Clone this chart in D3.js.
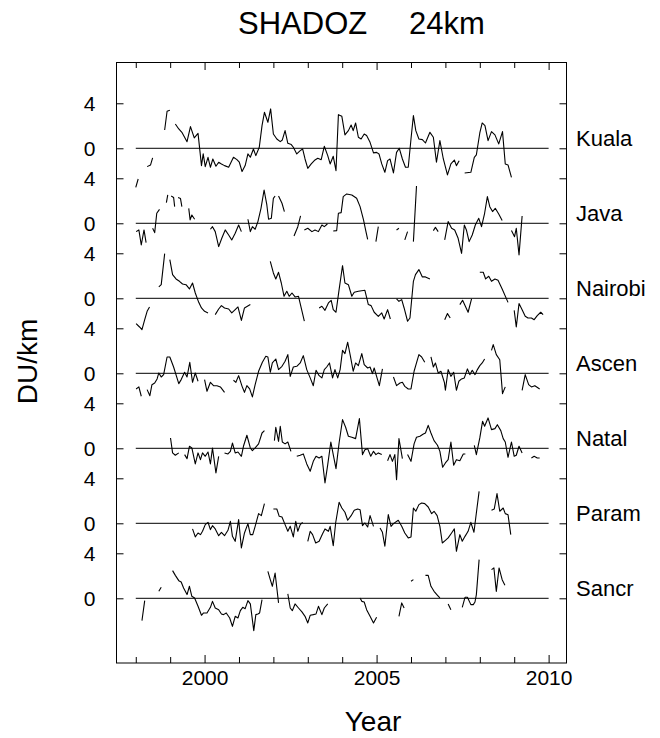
<!DOCTYPE html>
<html>
<head>
<meta charset="utf-8">
<script src="https://cdn.jsdelivr.net/npm/d3@7"></script>
<style>
  body { margin: 0; background: #fff; }
  text { font-family: "Liberation Sans", Arial, sans-serif; fill: #000; }
</style>
</head>
<body>
<script>
// stations, top to bottom
let stations = ['Kuala', 'Java', 'Nairobi', 'Ascen', 'Natal', 'Param', 'Sancr'];

// tick values
let majorYears = [2000, 2005, 2010];
let minorYears = [1998, 1999, 2001, 2002, 2003, 2004, 2006, 2007, 2008, 2009];
let panelTicks = [4, 0];
let panelTickLabels = ['4', '0'];

// ozone anomaly at 24km, [year, DU/km], null = gap
let kuala = [
  [1998.00,-3.47],[1998.07,-2.73],null,
  [1998.33,-1.63],[1998.43,-1.48],[1998.49,-0.86],null,
  [1998.84,1.63],[1998.91,3.29],[1998.99,3.38],null,
  [1999.15,2.16],[1999.25,1.72],[1999.34,1.42],[1999.49,0.59],[1999.59,1.93],[1999.70,0.92],[1999.81,1.33],[1999.91,-1.54],[1999.96,-0.50],
  [2000.02,-1.63],[2000.10,-0.80],[2000.17,-1.69],[2000.24,-0.95],[2000.33,-1.60],[2000.41,-1.24],[2000.49,-1.39],[2000.58,-1.54],[2000.70,-1.69],[2000.84,-0.80],[2000.94,-1.01],
  [2001.01,-1.24],[2001.09,-2.07],[2001.18,-1.54],[2001.26,-0.50],[2001.33,-0.80],[2001.42,-0.06],[2001.49,-0.65],[2001.59,0.09],[2001.67,2.01],[2001.74,3.20],[2001.84,2.31],[2001.92,3.50],
  [2002.00,1.27],[2002.10,0.83],[2002.20,0.59],[2002.26,0.74],[2002.34,1.57],[2002.42,0.44],[2002.52,0.33],[2002.58,0.09],[2002.68,-0.50],[2002.78,-0.21],[2002.85,-0.06],[2002.92,-0.95],
  [2003.00,-1.78],[2003.10,-1.39],[2003.21,-1.04],[2003.29,-0.89],[2003.39,-1.01],[2003.48,0.18],[2003.58,-0.65],[2003.65,-1.39],[2003.74,-0.71],[2003.82,-1.99],[2003.89,2.99],[2003.99,2.84],
  [2004.08,1.19],[2004.18,1.57],[2004.26,2.07],[2004.32,1.57],[2004.39,2.25],[2004.47,0.98],[2004.55,0.83],[2004.64,1.27],[2004.71,1.13],[2004.81,0.53],[2004.91,-0.41],
  [2005.00,-0.36],[2005.07,-0.50],[2005.15,-1.39],[2005.24,-2.13],[2005.32,-1.10],[2005.39,-0.95],[2005.49,-2.19],[2005.58,-0.36],[2005.66,0.00],[2005.75,-0.95],[2005.84,-1.69],[2005.92,-1.69],
  [2006.00,0.83],[2006.07,2.90],[2006.14,1.57],[2006.23,0.83],[2006.33,0.77],[2006.42,0.47],[2006.55,1.42],[2006.65,0.98],[2006.74,-1.24],[2006.84,0.68],[2006.94,-0.95],
  [2007.06,-2.37],[2007.16,-1.39],[2007.26,-1.04],[2007.32,-1.54],[2007.40,-1.10],null,
  [2007.56,-2.19],[2007.74,-2.13],[2007.84,-0.80],[2007.90,-0.59],[2008.00,1.36],[2008.07,2.25],[2008.15,2.01],[2008.24,0.68],[2008.34,1.48],[2008.44,1.19],[2008.55,0.39],[2008.66,1.48],[2008.74,-1.39],[2008.82,-1.48],[2008.92,-2.58]
];

let java = [
  [1998.01,-0.74],[1998.09,-0.59],[1998.16,-1.93],[1998.24,-0.59],[1998.30,-1.72],null,
  [1998.49,-0.44],[1998.55,-0.83],[1998.61,0.89],[1998.69,1.24],null,
  [1998.89,1.84],[1998.93,2.52],null,
  [1999.03,2.42],[1999.10,2.30],[1999.13,1.48],null,
  [1999.23,2.30],[1999.30,2.20],[1999.34,1.48],null,
  [1999.54,1.33],[1999.58,0.30],[1999.63,0.74],[1999.71,0.36],null,
  [2000.17,-0.53],[2000.23,-0.30],[2000.31,-0.74],[2000.41,-2.07],[2000.50,-1.33],[2000.60,-0.59],[2000.70,-1.04],[2000.79,-1.48],[2000.89,-0.89],[2000.99,-0.15],[2001.07,-0.74],null,
  [2001.26,0.36],[2001.33,-0.74],[2001.39,-0.30],[2001.47,-0.53],[2001.55,0.15],[2001.64,1.33],[2001.73,2.96],[2001.81,1.63],[2001.86,0.36],[2001.94,0.44],[2002.00,2.22],[2002.05,2.43],null,
  [2002.15,2.43],[2002.25,1.78],[2002.32,1.04],null,
  [2002.60,-1.13],[2002.71,-0.30],[2002.79,0.65],null,
  [2002.90,-0.59],[2003.00,-0.44],[2003.12,-0.74],[2003.21,-0.59],[2003.31,-0.74],[2003.41,-0.15],[2003.48,-0.30],[2003.57,-0.06],null,
  [2003.74,-0.68],[2003.84,-0.65],[2003.89,0.89],[2003.97,0.95],[2004.03,2.37],[2004.13,2.61],[2004.28,2.52],[2004.42,2.22],[2004.52,1.48],[2004.62,0.30],[2004.68,-0.59],[2004.74,-1.42],null,
  [2004.98,-1.63],[2005.05,-0.30],null,
  [2005.58,-0.59],[2005.65,-0.44],null,
  [2005.82,-1.48],[2005.90,-0.74],null,
  [2006.07,-1.63],[2006.16,3.32],null,
  [2006.65,-0.65],[2006.71,-0.36],[2006.79,-0.74],null,
  [2006.98,-1.48],[2007.08,0.15],[2007.18,-0.44],[2007.27,-0.59],[2007.37,-1.33],[2007.47,-2.67],[2007.55,-0.15],[2007.61,-0.59],[2007.69,-1.63],[2007.78,-1.04],[2007.87,-0.15],[2007.97,0.44],
  [2008.05,-0.30],[2008.14,0.89],[2008.22,2.37],[2008.29,1.48],[2008.37,1.04],[2008.45,1.33],[2008.55,0.83],[2008.65,0.24],null,
  [2008.92,-0.65],[2009.01,-1.19],[2009.06,-0.44],[2009.14,-2.81],[2009.23,0.65]
];

let nairobi = [
  [1998.01,-2.25],[1998.11,-2.55],[1998.18,-2.79],[1998.26,-1.90],[1998.33,-1.16],[1998.40,-0.77],null,
  [1998.67,1.01],[1998.74,1.21],[1998.84,3.97],null,
  [1998.99,3.44],[1999.07,2.10],[1999.17,1.72],[1999.27,1.51],[1999.36,1.27],[1999.46,1.21],[1999.56,0.83],[1999.65,1.36],[1999.73,0.47],[1999.83,-0.36],[1999.91,-0.86],[2000.00,-1.16],[2000.10,-1.30],null,
  [2000.31,-1.45],[2000.41,-0.95],[2000.49,-0.65],[2000.58,-0.86],[2000.70,-0.95],[2000.79,-1.30],[2000.89,-1.01],[2000.97,-0.77],[2001.07,-1.96],[2001.16,-0.86],[2001.33,-0.56],null,
  [2001.91,3.29],[2002.00,2.25],[2002.07,1.72],[2002.15,2.31],[2002.23,1.36],[2002.31,0.18],[2002.39,0.62],[2002.46,0.18],[2002.54,0.47],[2002.63,0.12],[2002.73,0.18],[2002.90,-2.04],null,
  [2003.33,-0.86],[2003.41,-0.71],[2003.50,-1.07],[2003.60,-0.41],[2003.68,-0.18],[2003.74,-1.01],[2003.82,-1.24],[2003.91,0.77],[2004.01,2.90],[2004.08,1.36],[2004.18,1.21],[2004.28,0.18],[2004.35,0.53],[2004.47,0.62],[2004.66,0.71],[2004.76,-0.56],[2004.84,-0.65],[2004.93,-1.24],
  [2005.05,-1.60],[2005.15,-1.30],[2005.22,-1.84],[2005.32,-1.01],[2005.40,-1.84],null,
  [2005.58,-0.06],[2005.65,-0.27],[2005.73,-0.12],[2005.80,-0.86],[2005.90,-2.04],[2005.97,-1.75],[2006.07,1.51],[2006.13,2.10],[2006.23,2.55],[2006.33,1.90],[2006.42,1.90],[2006.55,1.72],null,
  [2006.98,-1.90],[2007.06,-1.36],[2007.14,-1.75],null,
  [2007.42,-0.56],[2007.50,-0.18],[2007.66,-1.24],[2007.76,-0.06],null,
  [2008.00,2.31],[2008.10,2.31],[2008.17,1.72],[2008.26,1.96],[2008.34,1.51],[2008.44,1.72],[2008.53,1.60],[2008.65,0.83],[2008.82,-0.36],null,
  [2009.00,-1.07],[2009.06,-2.55],[2009.14,-0.47],[2009.23,-1.01],[2009.32,-1.60],[2009.40,-1.75],[2009.50,-1.75],[2009.58,-1.90],[2009.67,-1.54],[2009.77,-1.24],[2009.84,-1.45]
];

let ascen = [
  [1998.01,-1.39],[1998.09,-1.21],[1998.16,-2.04],null,
  [1998.33,-1.45],[1998.41,-1.99],[1998.47,-1.01],[1998.55,-0.86],[1998.62,-0.50],[1998.67,0.03],[1998.74,-0.33],[1998.81,-0.12],[1998.91,1.45],[1998.99,1.45],
  [1999.10,0.56],[1999.25,-0.92],[1999.32,-0.56],[1999.42,0.09],[1999.49,-0.33],[1999.57,0.98],[1999.65,-0.80],[1999.73,0.03],[1999.81,-0.71],null,
  [2000.00,-0.56],[2000.07,-1.60],[2000.17,-0.80],[2000.26,-1.10],[2000.36,-1.10],[2000.46,-1.21],[2000.58,-1.69],null,
  [2000.84,-0.62],[2000.91,-0.80],[2000.99,-0.21],[2001.09,-1.16],[2001.16,-1.69],[2001.23,-1.10],[2001.31,-1.39],[2001.39,-2.10],[2001.47,-1.01],[2001.57,0.18],[2001.68,0.98],[2001.78,1.51],[2001.84,1.45],[2001.91,0.09],[2001.97,0.92],
  [2002.07,1.27],[2002.15,0.33],[2002.25,0.62],[2002.34,1.07],[2002.42,1.66],[2002.49,-0.27],[2002.58,0.56],[2002.68,0.62],[2002.78,0.92],[2002.87,1.57],[2002.97,0.33],
  [2003.07,-0.41],[2003.16,-1.10],[2003.24,0.27],[2003.33,-0.21],[2003.41,-0.41],[2003.48,0.33],[2003.55,0.56],[2003.63,0.92],[2003.72,-0.41],[2003.79,0.33],[2003.87,-0.41],[2003.94,0.33],
  [2004.01,2.04],[2004.08,1.75],[2004.16,2.76],[2004.24,1.51],[2004.32,0.18],[2004.39,0.92],[2004.47,0.68],[2004.57,1.75],[2004.64,0.77],[2004.74,0.47],[2004.81,0.56],[2004.88,-0.03],[2004.93,0.47],
  [2005.00,-0.27],[2005.08,-1.10],[2005.17,0.39],null,
  [2005.49,-0.33],[2005.58,-1.10],[2005.68,-0.86],[2005.75,-0.80],[2005.82,-1.16],[2005.92,-1.39],[2006.00,-1.39],[2006.09,0.18],[2006.16,0.92],[2006.23,1.66],[2006.31,1.45],[2006.40,0.98],null,
  [2006.58,1.45],[2006.65,0.56],[2006.71,0.92],[2006.79,0.03],[2006.87,0.18],[2006.97,-0.80],[2007.00,-1.51],[2007.08,0.33],[2007.16,-0.27],[2007.24,0.09],[2007.32,-1.51],[2007.39,-0.71],[2007.47,-0.50],[2007.55,-0.41],[2007.64,0.39],[2007.71,-0.12],[2007.78,0.27],[2007.86,-0.12],[2007.93,0.33],
  [2008.00,0.68],[2008.07,0.92],[2008.14,1.27],null,
  [2008.34,2.04],[2008.39,2.55],[2008.48,1.66],[2008.58,1.21],[2008.66,-1.81],[2008.74,-1.21],null,
  [2009.23,-1.51],[2009.32,-0.12],[2009.42,-1.01],[2009.50,-1.21],[2009.60,-1.10],[2009.74,-1.39]
];

let natal = [
  [1999.01,0.92],[1999.07,-0.41],[1999.15,-0.62],[1999.25,-0.41],null,
  [1999.42,-0.56],[1999.49,-0.92],[1999.56,0.18],[1999.63,0.03],[1999.73,-1.39],[1999.81,-0.41],[1999.88,-1.01],[1999.94,-0.41],[2000.02,-0.71],[2000.10,-0.33],[2000.17,-1.39],[2000.23,0.03],[2000.33,-2.19],[2000.41,-0.71],null,
  [2000.58,-0.41],[2000.68,-0.50],[2000.75,-0.27],[2000.81,0.47],[2000.89,-0.41],[2000.97,-0.33],[2001.07,-0.71],[2001.13,0.18],[2001.23,1.16],[2001.33,0.03],[2001.39,-0.21],[2001.47,0.03],[2001.57,0.39],[2001.67,1.36],[2001.74,1.57],null,
  [2002.03,0.68],[2002.07,1.87],[2002.15,0.62],[2002.20,1.96],[2002.26,0.56],[2002.34,0.39],[2002.42,0.56],[2002.51,-0.27],null,
  [2002.68,-0.71],[2002.78,-0.62],[2002.87,-0.50],[2002.97,-1.39],[2003.07,-2.04],[2003.16,-1.16],[2003.24,-0.71],[2003.33,-0.86],[2003.41,-0.71],[2003.50,-3.08],[2003.58,-1.45],[2003.67,0.56],[2003.74,-0.56],[2003.82,-1.81],[2003.91,0.47],
  [2004.01,2.55],[2004.10,1.87],[2004.18,1.07],[2004.28,0.98],[2004.39,0.86],[2004.50,2.64],[2004.59,-0.56],[2004.66,-0.12],[2004.74,-0.03],[2004.83,-0.71],[2004.91,-0.27],[2004.98,-0.56],[2005.05,-0.41],[2005.15,-0.56],null,
  [2005.32,-1.10],[2005.39,-0.56],[2005.46,-1.16],[2005.53,-0.56],[2005.58,-2.79],[2005.65,0.86],[2005.75,-0.92],null,
  [2005.90,-0.56],[2006.00,-1.16],[2006.09,0.39],[2006.16,0.98],[2006.26,1.07],[2006.36,1.27],[2006.42,1.36],[2006.50,2.04],[2006.58,1.36],[2006.67,0.68],[2006.77,0.27],[2006.84,-0.27],[2006.92,-1.69],
  [2007.00,-1.30],[2007.08,-1.01],[2007.16,0.56],[2007.24,-1.51],[2007.32,-1.01],[2007.42,-1.10],[2007.52,-0.50],[2007.58,-0.50],null,
  [2007.84,0.27],[2007.90,-0.56],[2008.00,0.92],[2008.08,2.40],[2008.14,1.96],[2008.24,2.70],[2008.34,1.66],[2008.44,1.75],[2008.51,2.10],[2008.61,1.57],[2008.68,0.86],[2008.74,0.56],[2008.82,-0.80],[2008.92,0.56],
  [2009.00,-0.71],[2009.06,-0.62],[2009.14,0.18],[2009.23,-0.41],null,
  [2009.50,-0.86],[2009.58,-0.71],[2009.67,-0.86],[2009.74,-0.86]
];

let param = [
  [1999.65,-0.50],[1999.73,-1.21],[1999.81,-0.86],[1999.88,-1.01],[1999.94,-0.71],[2000.02,-0.12],[2000.10,0.09],[2000.17,-0.56],[2000.23,-0.21],[2000.31,-0.50],[2000.41,-1.10],[2000.49,-0.80],[2000.58,-1.10],[2000.68,-0.62],[2000.75,0.18],[2000.81,-1.16],[2000.89,-1.60],[2000.99,0.33],
  [2001.07,-2.19],[2001.16,-0.86],[2001.26,-0.03],[2001.33,-1.01],[2001.40,-1.01],[2001.47,-0.27],[2001.57,0.86],[2001.65,0.68],[2001.74,1.75],null,
  [2002.00,1.27],[2002.10,1.27],[2002.17,0.62],[2002.25,0.56],[2002.34,-0.12],[2002.42,-0.71],[2002.49,-0.27],[2002.58,-1.21],[2002.65,0.18],[2002.71,-0.71],[2002.78,-0.12],[2002.85,0.09],null,
  [2003.00,-1.60],[2003.07,-0.71],[2003.14,-1.01],[2003.23,-1.75],[2003.33,-1.60],[2003.43,-0.92],[2003.50,-0.50],[2003.60,-0.71],[2003.65,-0.27],[2003.74,-1.99],[2003.81,0.03],[2003.91,1.87],[2003.99,1.36],
  [2004.08,0.98],[2004.16,0.27],[2004.26,0.68],[2004.35,1.16],[2004.45,1.27],[2004.52,1.21],[2004.59,-0.21],[2004.66,0.03],[2004.74,-0.33],[2004.81,0.68],[2004.91,-0.27],null,
  [2005.10,-0.41],[2005.17,-0.80],[2005.24,-2.04],[2005.34,0.77],[2005.42,-0.27],[2005.49,-0.03],[2005.63,0.27],[2005.73,-0.27],[2005.82,-0.86],[2005.92,-1.30],[2006.00,-1.21],[2006.07,1.36],[2006.14,1.07],[2006.23,1.66],[2006.31,1.81],[2006.40,1.75],[2006.50,1.45],[2006.60,0.86],[2006.67,1.07],[2006.76,0.68],[2006.84,-0.27],[2006.91,-1.75],
  [2007.00,-1.51],[2007.08,-1.30],[2007.18,-0.86],[2007.26,-0.50],[2007.32,-2.49],[2007.42,-1.01],[2007.49,-1.60],[2007.57,-1.16],[2007.66,-0.71],[2007.74,0.09],[2007.83,-0.80],[2007.90,0.92],[2007.98,2.84],null,
  [2008.34,1.16],[2008.42,1.27],[2008.50,2.64],[2008.58,1.07],[2008.68,1.36],[2008.74,0.86],[2008.82,0.77],[2008.90,-1.01]
];

let sancr = [
  [1998.18,-1.99],[1998.26,-0.21],null,
  [1998.67,0.62],[1998.74,0.98],null,
  [1999.07,2.46],[1999.15,2.04],[1999.25,1.57],[1999.32,1.45],[1999.39,0.92],[1999.49,0.33],[1999.56,1.07],[1999.63,0.18],[1999.71,0.03],[1999.81,-0.71],[1999.91,-1.51],[1999.97,-1.30],
  [2000.07,-1.30],[2000.17,-0.80],[2000.23,-0.27],[2000.31,-0.86],[2000.41,-1.01],[2000.49,-1.39],[2000.55,-1.45],[2000.63,-1.30],[2000.73,-1.75],[2000.81,-2.49],[2000.89,-1.60],[2000.97,-1.75],
  [2001.04,-1.10],[2001.11,-0.80],[2001.18,-0.92],[2001.26,-0.21],[2001.33,-0.50],[2001.43,-2.87],[2001.49,-1.45],[2001.55,-1.39],[2001.60,-1.30],[2001.67,-0.12],null,
  [2001.84,2.40],[2001.91,1.66],[2001.97,1.07],[2002.05,2.25],[2002.10,0.92],[2002.15,-0.41],null,
  [2002.42,0.39],[2002.49,-0.86],[2002.55,-1.10],[2002.63,-0.50],[2002.73,-0.86],[2002.83,-1.21],[2002.92,-1.60],[2003.00,-2.19],[2003.07,-1.51],[2003.16,-1.45],[2003.24,-1.39],[2003.31,-0.71],[2003.41,-1.45],[2003.48,-0.86],[2003.58,-0.50],null,
  [2004.52,0.03],[2004.57,-0.27],[2004.64,-0.33],[2004.71,-1.01],[2004.81,-1.60],[2004.91,-2.19],[2005.00,-1.69],null,
  [2005.65,-1.60],[2005.73,-0.41],[2005.80,-0.86],null,
  [2006.00,1.51],[2006.07,1.66],null,
  [2006.42,2.04],[2006.50,2.04],[2006.58,1.07],[2006.67,0.62],[2006.77,0.27],[2006.84,0.03],null,
  [2007.08,-0.50],[2007.16,-1.01],null,
  [2007.49,-0.80],[2007.57,0.09],[2007.64,0.09],[2007.74,-0.56],[2007.81,-0.56],[2007.86,-0.33],[2007.90,0.33],[2007.98,3.44],null,
  [2008.34,2.55],[2008.41,2.70],[2008.48,0.62],[2008.56,2.70],[2008.65,1.66],[2008.73,1.16]
];

let series = [kuala, java, nairobi, ascen, natal, param, sancr];

// each panel sits 20/3 DU/km below the previous one
let panelStep = 20 / 3;
let offset = i => -i * panelStep;

let svg = d3.select('body').append('svg')
  .attr('width', 660)
  .attr('height', 738);

let x = d3.scaleLinear().domain([1997.44, 2010.52]).range([116.5, 566.5]);
let y = d3.scaleLinear().domain([-45.75, 7.67]).range([663, 62]);

// frame
svg.append('rect')
  .attr('x', 116.5).attr('y', 62.5)
  .attr('width', 450).attr('height', 600.5)
  .attr('fill', 'none').attr('stroke', '#000').attr('stroke-width', 1);

// x ticks, pointing inward on bottom and top
function noDomain(g) { g.select('.domain').remove(); }
svg.append('g').attr('transform', 'translate(0,663)')
  .call(d3.axisTop(x).tickValues(minorYears).tickSize(6).tickFormat(''))
  .call(noDomain);
svg.append('g').attr('transform', 'translate(0,663)')
  .call(d3.axisTop(x).tickValues(majorYears).tickSize(8).tickFormat(''))
  .call(noDomain);
svg.append('g').attr('transform', 'translate(0,62)')
  .call(d3.axisBottom(x).tickValues(minorYears).tickSize(6).tickFormat(''))
  .call(noDomain);
svg.append('g').attr('transform', 'translate(0,62)')
  .call(d3.axisBottom(x).tickValues(majorYears).tickSize(8).tickFormat(''))
  .call(noDomain);

// year labels
let xLab = svg.append('g').attr('transform', 'translate(0,663)')
  .call(d3.axisBottom(x).tickValues(majorYears).tickSize(0).tickPadding(7).tickFormat(d3.format('d')))
  .call(noDomain);
xLab.selectAll('text').attr('font-size', 21).attr('font-family', '"Liberation Sans", Arial, sans-serif');

// y ticks: 4 and 0 for every panel
let yTickVals = [];
stations.forEach((s, i) => panelTicks.forEach(t => yTickVals.push(offset(i) + t)));

svg.append('g').attr('transform', 'translate(116.5,0)')
  .call(d3.axisRight(y).tickValues(yTickVals).tickSize(7).tickFormat(''))
  .call(noDomain);
svg.append('g').attr('transform', 'translate(566.5,0)')
  .call(d3.axisLeft(y).tickValues(yTickVals).tickSize(7).tickFormat(''))
  .call(noDomain);

let yLab = svg.append('g').attr('transform', 'translate(116.5,0)')
  .call(d3.axisLeft(y).tickValues(yTickVals).tickSize(0).tickPadding(21)
    .tickFormat((d, i) => panelTickLabels[i % 2]))
  .call(noDomain);
yLab.selectAll('text').attr('font-size', 21).attr('font-family', '"Liberation Sans", Arial, sans-serif');

svg.selectAll('.tick line').attr('stroke', '#000');

// zero lines
svg.append('g').selectAll('line')
  .data(stations)
  .enter().append('line')
  .attr('x1', x(1998)).attr('x2', x(2010))
  .attr('y1', (d, i) => y(offset(i))).attr('y2', (d, i) => y(offset(i)))
  .attr('stroke', '#000').attr('stroke-width', 1);

// data lines
let line = d3.line()
  .defined(d => d !== null)
  .x(d => x(d[0]));

svg.append('g').selectAll('path')
  .data(series)
  .enter().append('path')
  .attr('d', (d, i) => line.y(p => y(p[1] + offset(i)))(d))
  .attr('fill', 'none')
  .attr('stroke', '#000')
  .attr('stroke-width', 1.1)
  .attr('stroke-linejoin', 'round');

// station names on the right
svg.append('g').selectAll('text')
  .data(stations)
  .enter().append('text')
  .attr('x', 576)
  .attr('y', (d, i) => y(offset(i)) - 2)
  .attr('font-size', 22)
  .text(d => d);

// titles
svg.append('text').attr('x', 238).attr('y', 34).attr('font-size', 31).text('SHADOZ');
svg.append('text').attr('x', 409).attr('y', 34).attr('font-size', 31).text('24km');

svg.append('text')
  .attr('x', 373).attr('y', 731)
  .attr('text-anchor', 'middle')
  .attr('font-size', 28)
  .text('Year');

svg.append('text')
  .attr('transform', 'translate(37,361.5) rotate(-90)')
  .attr('text-anchor', 'middle')
  .attr('font-size', 28)
  .text('DU/km');
</script>
</body>
</html>
